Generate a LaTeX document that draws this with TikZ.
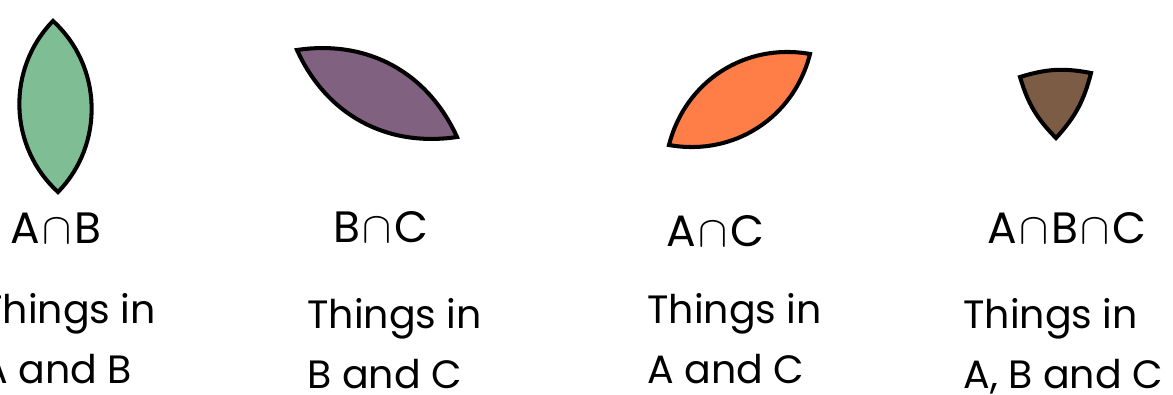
\documentclass[tikz,border=0pt]{standalone}
\usepackage{fontspec}
\setmainfont{Poppins}
\definecolor{abgreen}{RGB}{127,190,148}
\definecolor{bcpurple}{RGB}{128,97,128}
\definecolor{acorange}{RGB}{255,125,70}
\definecolor{abcbrown}{RGB}{125,92,70}
\tikzset{
  region/.style={draw=black,line width=2.3pt,line join=miter},
  setlbl/.style={anchor=base,inner sep=0pt,font=\fontsize{25}{30}\selectfont},
  desc/.style={anchor=base west,inner sep=0pt,align=left,font=\fontsize{22.5}{34}\selectfont}
}
\newcommand{\capsym}{\kern1.5pt$\mathord{\cap}$\kern1.5pt}

\begin{document}
\begin{tikzpicture}[x=0.02cm,y=-0.02cm]
  \useasboundingbox (0,0) rectangle (1173,395);

  % A and B
  \coordinate (ab1) at (53,21);
  \coordinate (ab2) at (58,192);
  \draw[region,fill=abgreen] (ab1) to[bend left=46] (ab2) to[bend left=46] cycle;

  % B and C
  \coordinate (bc1) at (297,50);
  \coordinate (bc2) at (457,137);
  \draw[region,fill=bcpurple] (bc1) to[bend left=37] (bc2) to[bend left=37] cycle;

  % A and C
  \coordinate (ac1) at (669,145);
  \coordinate (ac2) at (810,54);
  \draw[region,fill=acorange] (ac1) to[bend left=43] (ac2) to[bend left=43] cycle;

  % all three
  \coordinate (abc1) at (1020,77);
  \coordinate (abc2) at (1091,73);
  \coordinate (abc3) at (1056,138);
  \draw[region,fill=abcbrown] (abc1) to[bend left=14] (abc2) to[bend left=14] (abc3) to[bend left=14] cycle;

  % labels
  \node[setlbl] (ablbl) at (56,243) {A\capsym B};
  \node[setlbl] (bclbl) at (381,242) {B\capsym C};
  \node[setlbl] (aclbl) at (715,246) {A\capsym C};
  \node[setlbl] (abclbl) at (1067,243) {A\capsym B\capsym C};

  % base anchor sits on the last line
  \node[desc] (abtxt) at (-19,383) {Things in\\A and B};
  \node[desc] (bctxt) at (307,388) {Things in\\B and C};
  \node[desc] (actxt) at (647,383) {Things in\\A and C};
  \node[desc] (abctxt) at (963,388) {Things in\\A, B and C};
\end{tikzpicture}
\end{document}
